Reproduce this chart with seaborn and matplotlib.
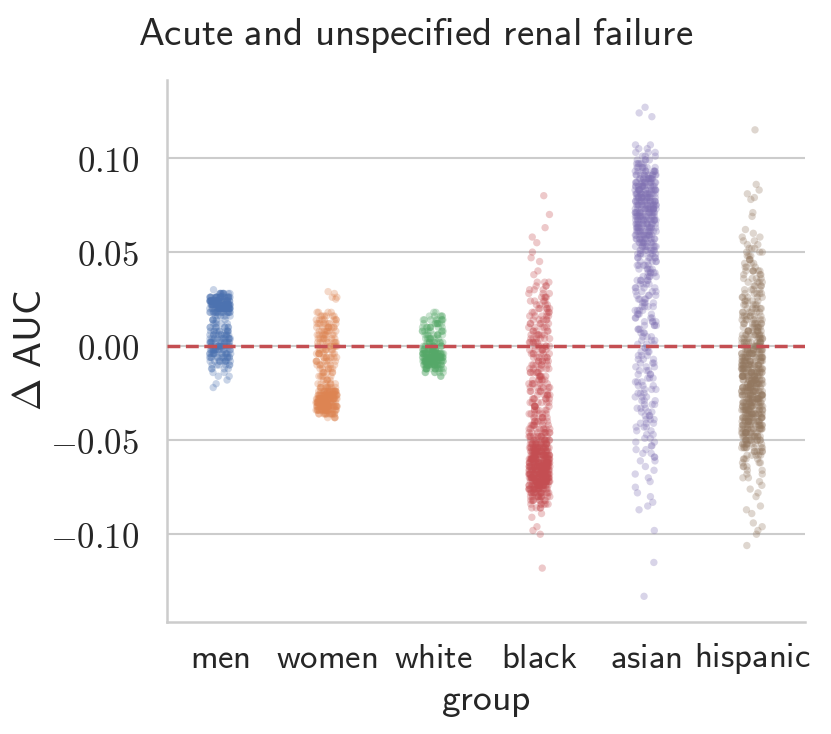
import matplotlib
matplotlib.use("Agg")
import matplotlib.pyplot as plt
import seaborn as sns
import pandas as pd
from matplotlib.ticker import FuncFormatter

# delta AUC: (level, number of dots at that level)
men = [(0.030, 1), (0.028, 10), (0.026, 24), (0.024, 30), (0.022, 32), (0.020, 30),
       (0.018, 18), (0.016, 6), (0.014, 5), (0.012, 5), (0.010, 8), (0.008, 10),
       (0.006, 12), (0.004, 13), (0.002, 14), (0.000, 15), (-0.002, 15), (-0.004, 14),
       (-0.006, 12), (-0.008, 9), (-0.010, 6), (-0.012, 4), (-0.014, 2), (-0.016, 2),
       (-0.018, 1), (-0.020, 1), (-0.022, 1)]

women = [(0.029, 1), (0.028, 1), (0.026, 2), (0.025, 1), (0.018, 4), (0.016, 6),
         (0.014, 7), (0.012, 8), (0.010, 8), (0.008, 8), (0.006, 8), (0.004, 8),
         (0.002, 8), (0.000, 8), (-0.002, 8), (-0.004, 8), (-0.006, 8), (-0.008, 7),
         (-0.010, 7), (-0.012, 6), (-0.014, 6), (-0.016, 5), (-0.018, 5), (-0.020, 6),
         (-0.022, 10), (-0.024, 18), (-0.026, 26), (-0.028, 30), (-0.030, 32),
         (-0.032, 30), (-0.034, 24), (-0.036, 14), (-0.038, 4)]

white = [(0.018, 2), (0.016, 5), (0.014, 8), (0.012, 8), (0.010, 8), (0.008, 8),
         (0.006, 8), (0.004, 8), (0.002, 10), (0.000, 12), (-0.002, 18), (-0.004, 26),
         (-0.006, 30), (-0.008, 30), (-0.010, 24), (-0.012, 14), (-0.014, 6), (-0.016, 2)]

black = [(0.080, 1), (0.070, 1), (0.063, 1), (0.058, 1), (0.055, 1), (0.050, 1),
         (0.047, 1), (0.045, 1), (0.040, 1), (0.038, 1), (0.034, 3), (0.032, 3),
         (0.030, 3), (0.028, 3), (0.026, 4), (0.024, 4), (0.022, 4), (0.020, 5),
         (0.018, 5), (0.016, 5), (0.014, 5), (0.012, 5), (0.010, 5), (0.008, 5),
         (0.006, 6), (0.004, 6), (0.002, 6), (0.000, 6), (-0.002, 6), (-0.004, 6),
         (-0.006, 6), (-0.008, 6), (-0.010, 6), (-0.012, 6), (-0.014, 6), (-0.016, 6),
         (-0.018, 6), (-0.020, 6), (-0.022, 6), (-0.024, 6), (-0.026, 6), (-0.028, 6),
         (-0.030, 6), (-0.032, 6), (-0.034, 6), (-0.036, 6), (-0.038, 6), (-0.040, 7),
         (-0.042, 7), (-0.044, 8), (-0.046, 9), (-0.048, 10), (-0.050, 12), (-0.052, 16),
         (-0.054, 20), (-0.056, 22), (-0.058, 24), (-0.060, 26), (-0.062, 28),
         (-0.064, 30), (-0.066, 30), (-0.068, 30), (-0.070, 28), (-0.072, 26),
         (-0.074, 22), (-0.076, 18), (-0.078, 14), (-0.080, 11), (-0.082, 8),
         (-0.084, 6), (-0.086, 4), (-0.089, 1), (-0.091, 1), (-0.096, 1), (-0.098, 1),
         (-0.100, 1), (-0.118, 1)]

asian = [(0.127, 1), (0.124, 1), (0.122, 1), (0.107, 2), (0.105, 2), (0.103, 3),
         (0.101, 3), (0.099, 4), (0.097, 5), (0.095, 7), (0.093, 9), (0.091, 11),
         (0.089, 12), (0.087, 13), (0.085, 14), (0.083, 14), (0.081, 15), (0.079, 15),
         (0.077, 15), (0.075, 15), (0.073, 15), (0.071, 15), (0.069, 14), (0.067, 14),
         (0.065, 13), (0.063, 13), (0.061, 12), (0.059, 12), (0.057, 11), (0.055, 10),
         (0.053, 9), (0.051, 8), (0.049, 7), (0.047, 6), (0.045, 5), (0.043, 5),
         (0.041, 5), (0.039, 5), (0.037, 5), (0.035, 5), (0.033, 4), (0.031, 4),
         (0.029, 4), (0.027, 4), (0.025, 4), (0.023, 4), (0.021, 4), (0.019, 4),
         (0.017, 4), (0.015, 4), (0.013, 4), (0.011, 4), (0.009, 3), (0.007, 3),
         (0.005, 3), (0.003, 3), (0.001, 3), (-0.001, 3), (-0.003, 3), (-0.005, 3),
         (-0.007, 3), (-0.009, 3), (-0.011, 3), (-0.013, 3), (-0.015, 3), (-0.017, 3),
         (-0.019, 3), (-0.021, 3), (-0.023, 3), (-0.025, 3), (-0.027, 3), (-0.029, 3),
         (-0.031, 3), (-0.033, 3), (-0.035, 3), (-0.037, 3), (-0.039, 3), (-0.041, 3),
         (-0.043, 3), (-0.045, 2), (-0.047, 2), (-0.049, 2), (-0.051, 2), (-0.053, 2),
         (-0.055, 2), (-0.057, 2), (-0.059, 2), (-0.061, 2), (-0.064, 1), (-0.066, 1),
         (-0.068, 1), (-0.070, 1), (-0.072, 1), (-0.075, 1), (-0.078, 1), (-0.080, 1),
         (-0.083, 1), (-0.085, 1), (-0.087, 1), (-0.098, 1), (-0.115, 1), (-0.133, 1)]

hispanic = [(0.115, 1), (0.086, 1), (0.083, 1), (0.081, 1), (0.079, 1), (0.078, 1),
            (0.071, 1), (0.069, 1), (0.062, 1), (0.060, 1), (0.058, 2), (0.056, 2),
            (0.054, 2), (0.052, 3), (0.050, 3), (0.048, 3), (0.046, 3), (0.044, 3),
            (0.042, 3), (0.040, 6), (0.038, 3), (0.036, 4), (0.034, 4), (0.032, 4),
            (0.030, 4), (0.028, 5), (0.026, 5), (0.024, 5), (0.022, 5), (0.020, 6),
            (0.018, 6), (0.016, 7), (0.014, 7), (0.012, 8), (0.010, 8), (0.008, 9),
            (0.006, 10), (0.004, 10), (0.002, 11), (0.000, 12), (-0.002, 13), (-0.004, 14),
            (-0.006, 14), (-0.008, 15), (-0.010, 15), (-0.012, 16), (-0.014, 16),
            (-0.016, 16), (-0.018, 16), (-0.020, 16), (-0.022, 16), (-0.024, 16),
            (-0.026, 16), (-0.028, 16), (-0.030, 16), (-0.032, 16), (-0.034, 16),
            (-0.036, 15), (-0.038, 15), (-0.040, 14), (-0.042, 14), (-0.044, 13),
            (-0.046, 12), (-0.048, 11), (-0.050, 10), (-0.052, 9), (-0.054, 8),
            (-0.056, 6), (-0.058, 5), (-0.060, 4), (-0.062, 3), (-0.064, 3), (-0.066, 2),
            (-0.068, 2), (-0.070, 2), (-0.072, 1), (-0.074, 1), (-0.076, 1), (-0.078, 1),
            (-0.080, 1), (-0.085, 1), (-0.087, 1), (-0.089, 1), (-0.094, 1), (-0.096, 1),
            (-0.098, 1), (-0.100, 1), (-0.106, 1)]

groups = ["men", "women", "white", "black", "asian", "hispanic"]
group_data = [men, women, white, black, asian, hispanic]
yticks = [-0.10, -0.05, 0.00, 0.05, 0.10]

rows = []
for g, pairs in zip(groups, group_data):
    for v, n in pairs:
        for _ in range(n):
            rows.append({"group": g, "dauc": v})
df = pd.DataFrame(rows)

sns.set_theme(style="whitegrid")
plt.rcParams["mathtext.fontset"] = "cm"
plt.rcParams["axes.edgecolor"] = ".8"

fig = plt.figure(figsize=(8.31, 7.34), dpi=100)
ax = fig.add_axes([0.201, 0.153, 0.768, 0.738])

sns.stripplot(data=df, x="group", y="dauc", hue="group", palette="deep",
              order=groups, jitter=True, size=5.3, alpha=0.3, linewidth=0,
              legend=False, ax=ax)

ax.axhline(0, color="#c44e52", linestyle="--", linewidth=2.5, zorder=5)

ax.set_ylim(-0.1465, 0.1415)
ax.set_yticks(yticks)
ax.yaxis.set_major_formatter(FuncFormatter(lambda v, p: r"$%.2f$" % v))
ax.set_xticks(range(len(groups)))
ax.set_xticklabels([r"$\mathsf{%s}$" % g for g in groups])
ax.tick_params(axis="y", labelsize=25, pad=14)
ax.tick_params(axis="x", labelsize=25, pad=8)

ax.set_xlabel(r"$\mathsf{group}$", fontsize=27, labelpad=5)
ax.set_ylabel(r"$\Delta\ \mathsf{AUC}$", fontsize=28)
ax.yaxis.set_label_coords(-0.185, 0.5)
ax.grid(True, axis="y", color=".8", linewidth=1.5)
ax.grid(False, axis="x")
for s in ["left", "bottom"]:
    ax.spines[s].set_linewidth(1.8)
sns.despine(ax=ax)

fig.suptitle(r"$\mathsf{Acute\ and\ unspecified\ renal\ failure}$", fontsize=28, y=0.978)

fig.savefig("out.png", dpi=100)
